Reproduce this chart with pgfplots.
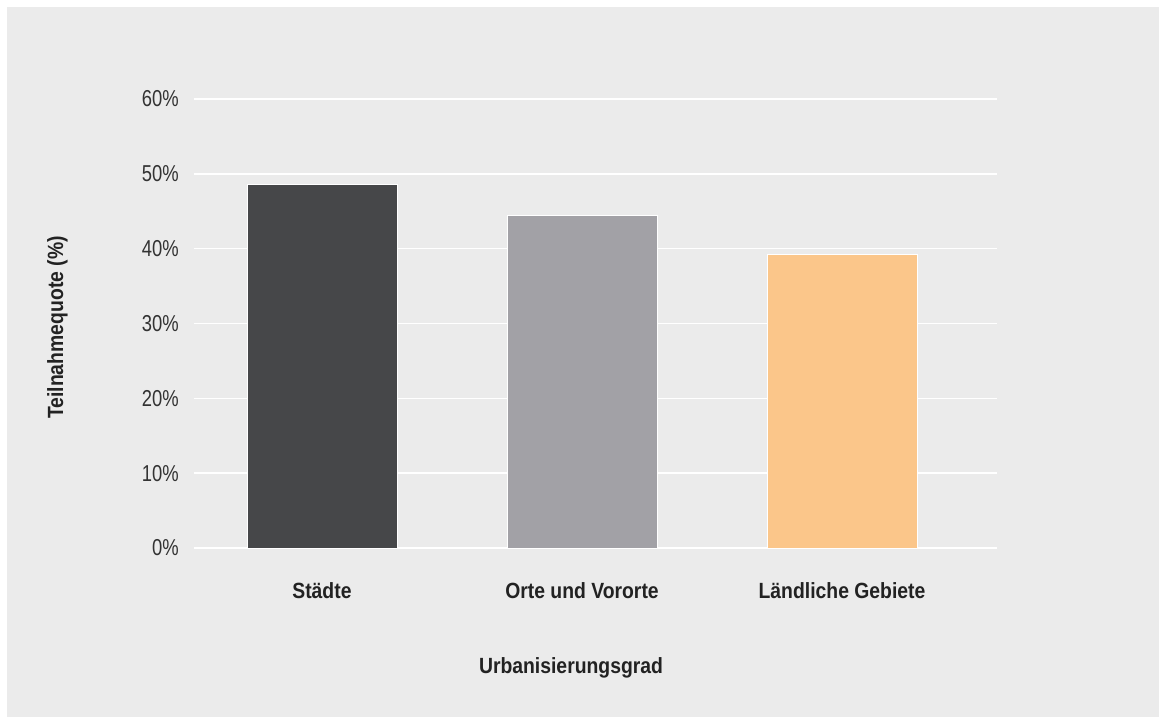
\documentclass[border=0pt]{standalone}
\usepackage{pgfplots}
\pgfplotsset{compat=1.18}
\usepackage{fontspec}
\setmainfont{Liberation Sans}
\newfontfamily\tickfont{Liberation Sans}[FakeStretch=0.8]
\newfontfamily\labfont{Liberation Sans}[FakeStretch=0.88]

\definecolor{panel}{HTML}{EBEBEB}
\definecolor{barDark}{HTML}{464749}
\definecolor{barGray}{HTML}{A2A1A6}
\definecolor{barOrange}{HTML}{FBC68A}
\definecolor{txtDark}{HTML}{222222}
\definecolor{txtTick}{HTML}{333333}

\begin{document}
\begin{tikzpicture}[x=1pt,y=1pt]
  % page and grey panel
  \useasboundingbox (0,0) rectangle (1159,717);
  \fill[white] (0,0) rectangle (1159,717);
  \fill[panel] (7,0) rectangle (1159,710);
  \begin{axis}[
    at={(194pt,169pt)}, anchor=south west,
    scale only axis,
    width=803pt, height=449pt,
    xmin=-0.492, xmax=2.596,
    ymin=0, ymax=60,
    ytick={0,10,20,30,40,50,60},
    xtick={0,1,2},
    xticklabels={St\"adte, Orte und Vororte, L\"andliche Gebiete},
    yticklabel={\pgfmathprintnumber{\tick}\%},
    /pgf/number format/assume math mode=true,
    axis line style={draw=none},
    major tick length=0pt,
    ymajorgrids,
    grid style={white, line width=1.6pt},
    axis on top=false,
    clip=false,
    yticklabel style={font=\tickfont\fontsize{23}{26}\selectfont, text=txtTick,
      anchor=east, inner sep=0pt, xshift=-15pt},
    xticklabel style={font=\labfont\bfseries\fontsize{22}{25}\selectfont, text=txtDark,
      anchor=base, inner sep=0pt, yshift=-51pt},
    xlabel={Urbanisierungsgrad},
    ylabel={Teilnahmequote (\%)},
    xlabel style={font=\labfont\bfseries\fontsize{22}{25}\selectfont, text=txtDark,
      at={(axis description cs:0.4695,0)}, anchor=base, inner sep=0pt, yshift=-125pt},
    ylabel style={font=\labfont\bfseries\fontsize{22}{25}\selectfont, text=txtDark,
      at={(axis description cs:-0.1631,0.491)}, rotate=0, anchor=base, inner sep=0pt},
    ybar, bar width=150pt, bar shift=0pt,
  ]
    \addplot[fill=barDark, draw=white, line width=0.8pt] coordinates {(0,48.6)};
    \addplot[fill=barGray, draw=white, line width=0.8pt] coordinates {(1,44.5)};
    \addplot[fill=barOrange, draw=white, line width=0.8pt] coordinates {(2,39.3)};
  \end{axis}
\end{tikzpicture}
\end{document}
